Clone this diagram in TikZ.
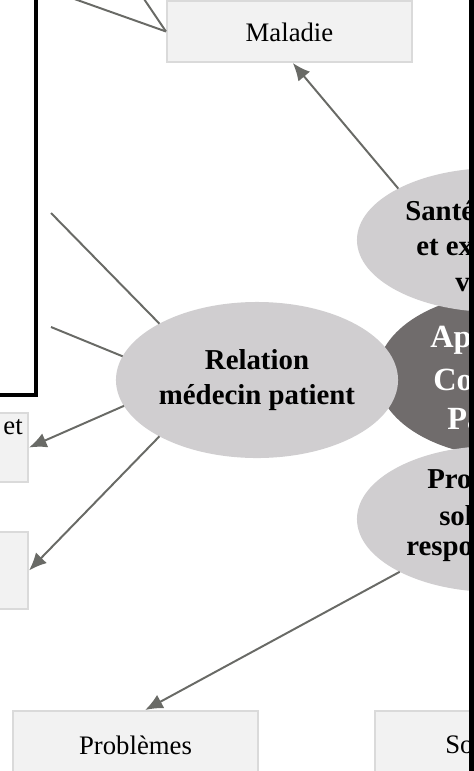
\documentclass[tikz,border=0pt]{standalone}
\usepackage{fontspec}
\setmainfont{Liberation Serif}
\usetikzlibrary{shapes,arrows.meta}
\definecolor{lineg}{RGB}{105,106,102}
\definecolor{boxfill}{RGB}{242,242,242}
\definecolor{boxline}{RGB}{218,218,218}
\definecolor{lightell}{RGB}{208,206,208}
\definecolor{darkell}{RGB}{112,108,108}

\begin{document}
\begin{tikzpicture}[x=0.025cm,y=-0.025cm]
	\tikzset{box/.style = {shape=rectangle,draw=boxline,fill=boxfill,line width=1.4pt,inner sep=0pt,minimum width=6.125cm}}
	
	\tikzset{bubble/.style = {shape=ellipse,fill=lightell,inner sep=0pt,outer sep=0pt}}
	
	\tikzset{txt/.style = {font=\fontsize{19}{22}\selectfont,inner sep=0pt}}
	
	\tikzset{btxt/.style = {font=\fontsize{20.5}{25.5}\selectfont\bfseries,inner sep=0pt}}
	
	\tikzset{wtxt/.style = {btxt,text=white,font=\fontsize{23}{28}\selectfont\bfseries}}
	
	\tikzset{edge/.style = {draw=lineg,line width=1.4pt}}
	
	\tikzset{arrow/.style = {edge,-{Latex[length=4.4mm,width=3.8mm]}}}
	
	\useasboundingbox (0,0) rectangle (474,771);
	\clip (0,0) rectangle (474,771);
	
	% frame of the picture on the left
	\draw[line width=2.8pt] (-5,395) -- (36,395) -- (36,-5);
	
	% boxes
	
	\node[box,minimum height=1.525cm] (maladie) at (289.5,31.5) {};
	
	\node[txt] (maladietxt) at (289.5,32) {Maladie};
	
	\node[box,minimum height=1.725cm] (etbox) at (-94.5,447.5) {};
	
	\node[txt,anchor=east] (ettxt) at (23,427) {et};
	
	\node[box,minimum height=1.925cm] (box2) at (-94.5,570.5) {};
	
	\node[box,minimum height=1.75cm] (problemes) at (135.5,746) {};
	
	\node[txt] (problemestxt) at (135.5,745) {Problèmes};
	
	\node[box,minimum height=1.75cm] (so) at (497.5,746) {};
	
	\node[txt,anchor=west] (sotxt) at (445,745) {So};
	
	% ellipses
	
	\node[shape=ellipse,fill=darkell,inner sep=0pt,minimum width=6.65cm,minimum height=4.1cm] (acp) at (510,375) {};
	
	\node[bubble,minimum width=7.05cm,minimum height=3.9cm] (relation) at (257,380) {};
	
	\node[bubble,minimum width=6.9cm,minimum height=3.6cm] (sante) at (495,240) {};
	
	\node[bubble,minimum width=6.9cm,minimum height=3.65cm] (pro) at (495,519) {};
	
	\node[btxt,align=center] (relationtxt) at (257,380) {Relation\\médecin patient};
	
	\node[btxt,anchor=west] (s1) at (405,211) {Santé};
	\node[btxt,anchor=west] (s2) at (416,248) {et ex};
	\node[btxt,anchor=west] (s3) at (455,285) {v};
	
	\node[btxt,anchor=west] (p1) at (427,479) {Pro};
	\node[btxt,anchor=west] (p2) at (439,516) {sol};
	\node[btxt,anchor=west] (p3) at (406,552) {respo};
	
	\node[wtxt,anchor=west] (a1) at (430,340) {Ap};
	\node[wtxt,anchor=west] (a2) at (433,380) {Co};
	\node[wtxt,anchor=west] (a3) at (447,419) {Pa};
	
	% free ends of the lines coming from outside
	\coordinate (m1) at (66,-4);
	\coordinate (m2) at (142,-4);
	\coordinate (r1) at (51,213);
	\coordinate (r2) at (51,327);
	
	%edges
	\draw[edge] (m1) -- (maladie.west);
	\draw[edge] (m2) -- (maladie.west);
	\draw[edge] (r1) -- (relation.150);
	\draw[edge] (r2) -- (relation.170);
	
	\draw[arrow] (sante.152) -- (maladie.-84);
	\draw[arrow] (relation.191) -- (etbox.east);
	\draw[arrow] (relation.210) -- (box2.east);
	\draw[arrow] (pro.209) -- (problemes.75);
	
	% black strip on the right side
	\fill[black] (469,-5) rectangle (480,780);
\end{tikzpicture}
\end{document}
